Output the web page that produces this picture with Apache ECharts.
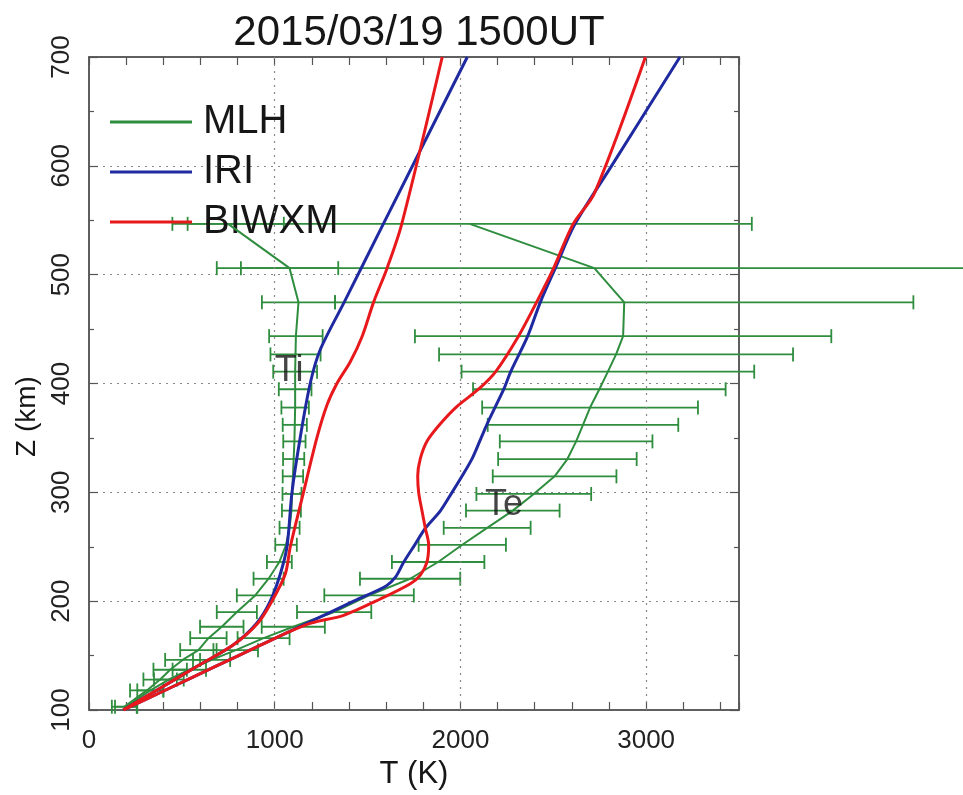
<!DOCTYPE html>
<html>
<head>
<meta charset="utf-8">
<script src="https://cdn.jsdelivr.net/npm/echarts@6/dist/echarts.min.js"></script>
<style>
html,body{margin:0;padding:0;background:#fff;}
#chart{width:963px;height:795px;}
</style>
</head>
<body>
<div id="chart"></div>
<script>
// ---------- text ----------
const TITLE = '2015/03/19 1500UT';
const X_NAME = 'T (K)';
const Y_NAME = 'Z (km)';
const LEGEND_NAMES = ['MLH', 'IRI', 'BIWXM'];
const X_GRID_LINES = [1000, 2000, 3000];
const LABEL_TEXT = ['Ti', 'Te'];
const LABEL_T = [1078, 2235];
const LABEL_Z = [411, 288];

// ---------- MLH (measured) ----------
const mlhZ     = [103, 118, 128, 137, 146, 155, 166, 176.5, 190, 205.3, 220.6, 236, 251.8, 267.4, 283.2, 298.5, 314.7, 330.6, 346.8, 362, 377.9, 394.7, 410.9, 426.7, 443.5, 474.6, 506, 546.7];
const mlhTi    = [190, 311, 383, 437, 504, 589, 643, 715, 796, 895, 967, 1025, 1061, 1080, 1090, 1093, 1098, 1102, 1106, 1108, 1110, 1110, 1110, 1112, 1114, 1128, 1080, 749];
const mlhTiErr = [67, 90, 90, 90, 94, 98, 98, 117, 108, 99, 81, 67, 58, 54, 51, 51, 55, 57, 60, 65, 74, 88, 118, 135, 144, 197, 262, 300];
const mlhTe    = [200, 330, 430, 540, 660, 790, 940, 1100, 1320, 1508, 1729, 1880, 2010, 2144, 2282, 2395, 2507, 2576, 2623, 2660, 2698, 2748, 2794, 2838, 2876, 2882, 2721, 2050];
const mlhTeErr = [60, 70, 80, 90, 100, 120, 140, 170, 200, 241, 270, 249, 235, 234, 252, 309, 333, 373, 411, 513, 581, 680, 788, 953, 1121, 1557, 2033, 1519];

// ---------- IRI model ----------
const iriTiZ = [100, 120, 140, 160, 180, 200, 225, 250, 300, 350, 400, 431, 475, 546, 700];
const iriTiT = [185, 383, 580, 778, 904, 976, 1030, 1066, 1093, 1137, 1191, 1245, 1375, 1583, 2037];
const iriTeZ = [100, 120, 140, 160, 180, 200, 214, 222, 236, 252, 267, 283, 300, 315, 331, 347, 363, 379, 395, 411, 443, 475, 506, 546, 600, 700];
const iriTeT = [185, 433, 681, 929, 1177, 1425, 1600, 1650, 1695, 1755, 1811, 1892, 1955, 2009, 2063, 2104, 2144, 2189, 2234, 2271, 2361, 2431, 2511, 2615, 2814, 3182];

// ---------- BIWXM model ----------
const bwTiZ = [100, 120, 140, 160, 180, 200, 225, 250, 300, 350, 380, 400, 420, 443, 475, 506, 546, 700];
const bwTiT = [185, 383, 580, 778, 910, 985, 1057, 1084, 1155, 1227, 1281, 1335, 1407, 1470, 1533, 1605, 1683, 1902];
const bwTeZ = [100, 120, 140, 160, 172, 180, 187, 202, 216, 224, 236, 252, 267, 283, 300, 315, 331, 347, 363, 379, 395, 411, 443, 475, 506, 546, 575, 700];
const bwTeT = [185, 433, 681, 929, 1080, 1200, 1371, 1569, 1730, 1784, 1820, 1829, 1811, 1793, 1775, 1770, 1784, 1820, 1892, 1982, 2099, 2190, 2311, 2411, 2502, 2605, 2722, 2996];

// ---------- styling ----------
const GREEN = '#2f8d3e';
const BLUE = '#1f2aa0';
const RED = '#e8191c';
const TXT = '#161616';
const FONT = '"Liberation Sans", Arial, Helvetica, sans-serif';

const pairs = (t, z) => t.map((v, i) => [v, z[i]]);
const errData = (t, e, z) => t.map((v, i) => [v, z[i], v - e[i], v + e[i]]);

function errRender(params, api) {
  const z = api.value(1);
  const p1 = api.coord([api.value(2), z]);
  const p2 = api.coord([api.value(3), z]);
  const h = 7;
  const style = { stroke: GREEN, lineWidth: 1.8, fill: null };
  return {
    type: 'group',
    children: [
      { type: 'line', shape: { x1: p1[0], y1: p1[1], x2: p2[0], y2: p2[1] }, style },
      { type: 'line', shape: { x1: p1[0], y1: p1[1] - h, x2: p1[0], y2: p1[1] + h }, style },
      { type: 'line', shape: { x1: p2[0], y1: p2[1] - h, x2: p2[0], y2: p2[1] + h }, style }
    ]
  };
}

const chart = echarts.init(document.getElementById('chart'), null, { renderer: 'canvas' });

const axisCommonX = {
  type: 'value', min: 0, max: 3500, interval: 200,
  axisLine: { show: true, onZero: false, lineStyle: { color: '#555', width: 1.5 } },
  axisTick: { show: true, inside: true, length: 8, lineStyle: { color: '#555', width: 1.2 } },
  splitLine: { show: false }
};
const axisCommonY = {
  type: 'value', min: 100, max: 700, interval: 100,
  axisLine: { show: true, onZero: false, lineStyle: { color: '#555', width: 1.5 } },
  axisTick: { show: true, inside: true, length: 9, lineStyle: { color: '#555', width: 1.2 } },
  minorTick: { show: true, splitNumber: 2, length: 5, lineStyle: { color: '#555', width: 1.2 } }
};

const option = {
  backgroundColor: '#ffffff',
  animation: false,
  textStyle: { fontFamily: FONT },
  title: {
    text: TITLE, left: 414, top: 7, textAlign: 'center',
    textStyle: { fontSize: 42, fontWeight: 'normal', color: TXT, fontFamily: FONT }
  },
  legend: {
    data: LEGEND_NAMES, orient: 'vertical', left: 105, top: 97,
    icon: 'rect', itemWidth: 82, itemHeight: 3, itemGap: 10,
    textStyle: { fontSize: 40, color: TXT, fontFamily: FONT, lineHeight: 40, padding: [0, 0, 0, 6] },
    selectedMode: false
  },
  grid: { left: 89, right: 224, top: 57, bottom: 83, show: true, borderColor: '#555', borderWidth: 1.5, backgroundColor: 'transparent' },
  xAxis: [
    Object.assign({}, axisCommonX, {
      position: 'bottom',
      name: X_NAME, nameLocation: 'middle', nameGap: 49,
      nameTextStyle: { fontSize: 31, color: TXT, fontFamily: FONT },
      axisLabel: { show: true, fontSize: 26, color: '#222', margin: 18, fontFamily: FONT,
        formatter: v => (v % 1000 === 0 ? String(v) : '') }
    }),
    Object.assign({}, axisCommonX, { position: 'top', axisLabel: { show: false } })
  ],
  yAxis: [
    Object.assign({}, axisCommonY, {
      position: 'left',
      name: Y_NAME, nameLocation: 'middle', nameGap: 46, nameRotate: 90,
      nameTextStyle: { fontSize: 28, color: TXT, fontFamily: FONT, padding: [0, 66, 0, 0] },
      axisLabel: { show: true, fontSize: 26, color: '#222', margin: 14, rotate: 90, fontFamily: FONT },
      splitLine: { show: true, lineStyle: { color: '#888', width: 1.2, type: [2, 5] } }
    }),
    Object.assign({}, axisCommonY, { position: 'right', axisLabel: { show: false }, splitLine: { show: false } })
  ],
  series: [
    {
      name: 'grid-x', type: 'line', data: [], z: 1, silent: true,
      markLine: {
        silent: true, symbol: 'none', label: { show: false },
        lineStyle: { color: '#888', width: 1.2, type: [2, 5] },
        data: X_GRID_LINES.map(v => ({ xAxis: v }))
      }
    },
    {
      name: 'MLH Ti err', type: 'custom', renderItem: errRender, clip: false, z: 3,
      encode: { x: 0, y: 1 }, data: errData(mlhTi, mlhTiErr, mlhZ)
    },
    {
      name: 'MLH Te err', type: 'custom', renderItem: errRender, clip: false, z: 3,
      encode: { x: 0, y: 1 }, data: errData(mlhTe, mlhTeErr, mlhZ)
    },
    {
      name: 'MLH', type: 'line', data: pairs(mlhTi, mlhZ), showSymbol: false, z: 4,
      color: GREEN, lineStyle: { color: GREEN, width: 2 }
    },
    {
      name: 'MLH', type: 'line', data: pairs(mlhTe, mlhZ), showSymbol: false, z: 4,
      color: GREEN, lineStyle: { color: GREEN, width: 2 }
    },
    {
      name: 'IRI', type: 'line', data: pairs(iriTiT, iriTiZ), showSymbol: false, smooth: 0.3, z: 5,
      color: BLUE, lineStyle: { color: BLUE, width: 3 }
    },
    {
      name: 'IRI', type: 'line', data: pairs(iriTeT, iriTeZ), showSymbol: false, smooth: 0.3, z: 5,
      color: BLUE, lineStyle: { color: BLUE, width: 3 }
    },
    {
      name: 'BIWXM', type: 'line', data: pairs(bwTiT, bwTiZ), showSymbol: false, smooth: 0.3, z: 6,
      color: RED, lineStyle: { color: RED, width: 3 }
    },
    {
      name: 'BIWXM', type: 'line', data: pairs(bwTeT, bwTeZ), showSymbol: false, smooth: 0.3, z: 6,
      color: RED, lineStyle: { color: RED, width: 3 }
    },
    {
      name: 'labels', type: 'scatter', symbolSize: 0, z: 7, silent: true,
      data: LABEL_TEXT.map((s, i) => ({ value: [LABEL_T[i], LABEL_Z[i]], name: s })),
      label: { show: true, position: 'inside', formatter: p => p.name, fontSize: 36, color: TXT, fontFamily: FONT }
    }
  ]
};

chart.setOption(option);
</script>
</body>
</html>
